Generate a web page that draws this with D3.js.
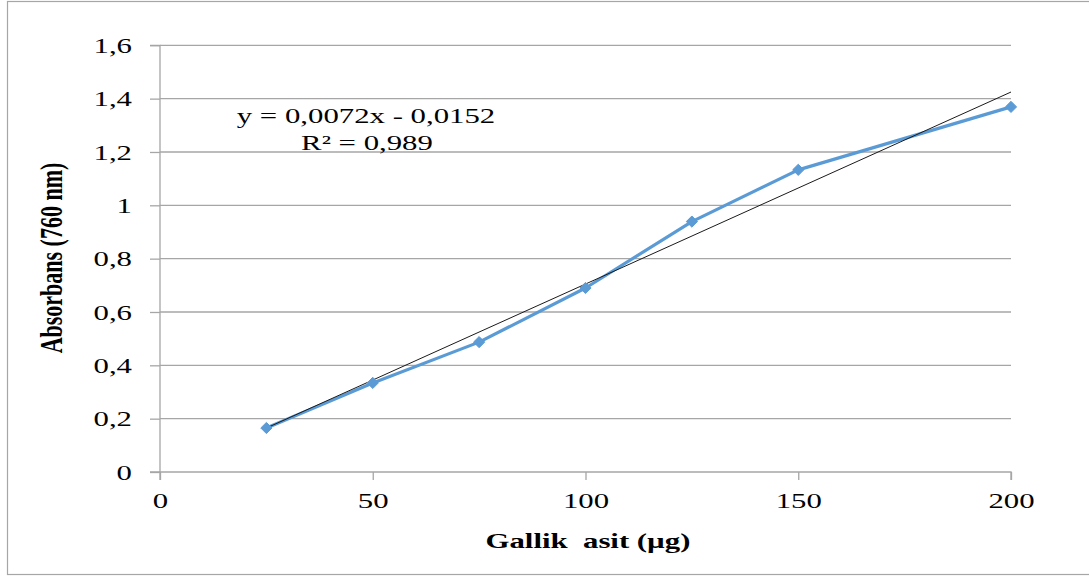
<!DOCTYPE html>
<html><head><meta charset="utf-8">
<script src="https://cdn.jsdelivr.net/npm/d3@7"></script>
<style>body{margin:0;background:#fff}svg{display:block}text{white-space:pre}</style>
</head><body>
<script>
const xValues = [25, 50, 75, 100, 125, 150, 200];
const yValues = [0.165, 0.334, 0.487, 0.69, 0.939, 1.133, 1.369];
const xTicks = [0, 50, 100, 150, 200];
const yTicks = [0, 0.2, 0.4, 0.6, 0.8, 1, 1.2, 1.4, 1.6];
const trendSlope = 0.0072, trendIntercept = -0.0152;
const equationText = "y = 0,0072x - 0,0152";
const r2Text = "R² = 0,989";
const xTitle = "Gallik  asit (µg)";
const yTitle = "Absorbans (760 nm)";

const W = 1089, H = 576, SX = 1.4;
const svg = d3.select("body").append("svg").attr("width", W).attr("height", H);
svg.append("rect").attr("x", 7.5).attr("y", 1.5).attr("width", W + 10).attr("height", 573)
  .attr("fill", "#fff").attr("stroke", "#a6a6a6").attr("stroke-width", 1.2);

const x = d3.scaleLinear().domain([0, 200]).range([160, 1011]);
const y = d3.scaleLinear().domain([0, 1.6]).range([472, 45.3]);
const fmt = d => String(d).replace(".", ",");
const font = "'Liberation Serif','Times New Roman',serif";

// gridlines
svg.append("g").selectAll("line").data(yTicks.filter(d => d > 0)).join("line")
  .attr("x1", x(0)).attr("x2", x(200)).attr("y1", d => y(d)).attr("y2", d => y(d))
  .attr("stroke", "#a6a6a6").attr("stroke-width", 1.3);

const yAxis = svg.append("g").attr("transform", `translate(${x(0)},0)`)
  .call(d3.axisLeft(y).tickValues(yTicks).tickFormat(fmt).tickSize(10).tickPadding(18));
const xAxis = svg.append("g").attr("transform", `translate(0,${y(0)})`)
  .call(d3.axisBottom(x).tickValues(xTicks).tickFormat(fmt).tickSize(8).tickPadding(12));
[yAxis, xAxis].forEach(a => {
  a.select(".domain").attr("stroke", "#a6a6a6").attr("stroke-width", 1.3);
  a.selectAll(".tick line").attr("stroke", "#a6a6a6").attr("stroke-width", 1.3);
  a.selectAll("text").attr("font-family", font).attr("font-size", 22).attr("fill", "#000")
    .attr("transform", `scale(${SX},1)`);
});
yAxis.selectAll(".tick text").attr("x", -28 / SX);
yAxis.select(".domain").attr("d", `M-10,${y(1.6)}H0V${y(0)}H-10`);
xAxis.select(".domain").attr("d", `M${x(0)},8V0H${x(200)}V8`);

// series line
svg.append("path").datum(xValues.map((d, i) => [d, yValues[i]]))
  .attr("fill", "none").attr("stroke", "#5b9bd5").attr("stroke-width", 3.2)
  .attr("stroke-linejoin", "round")
  .attr("d", d3.line().x(d => x(d[0])).y(d => y(d[1])));

// trendline
const tx = [xValues[0], xValues[xValues.length - 1]];
svg.append("line")
  .attr("x1", x(tx[0])).attr("y1", y(trendSlope * tx[0] + trendIntercept))
  .attr("x2", x(tx[1])).attr("y2", y(trendSlope * tx[1] + trendIntercept))
  .attr("stroke", "#1a1a1a").attr("stroke-width", 1);

// markers
svg.append("g").selectAll("path").data(xValues.map((d, i) => [d, yValues[i]])).join("path")
  .attr("transform", d => `translate(${x(d[0])},${y(d[1])})`)
  .attr("d", d3.symbol(d3.symbolDiamond2, 80)())
  .attr("fill", "#5b9bd5").attr("stroke", "#5b9bd5").attr("stroke-width", 1);

// equation
function stretchedText(tx, ty, txt, weight, rot) {
  return svg.append("text")
    .attr("transform", `translate(${tx},${ty}) scale(${SX},1)` + (rot ? ` rotate(${rot})` : ""))
    .attr("text-anchor", "middle").attr("font-family", font).attr("font-size", 22)
    .attr("font-weight", weight).attr("fill", "#000").text(txt);
}
stretchedText(366, 123, equationText, "normal");
stretchedText(367, 150, r2Text, "normal");

// axis titles
stretchedText(588, 548, xTitle, "bold");
stretchedText(62, 258, yTitle, "bold", -90);
</script>
</body></html>
